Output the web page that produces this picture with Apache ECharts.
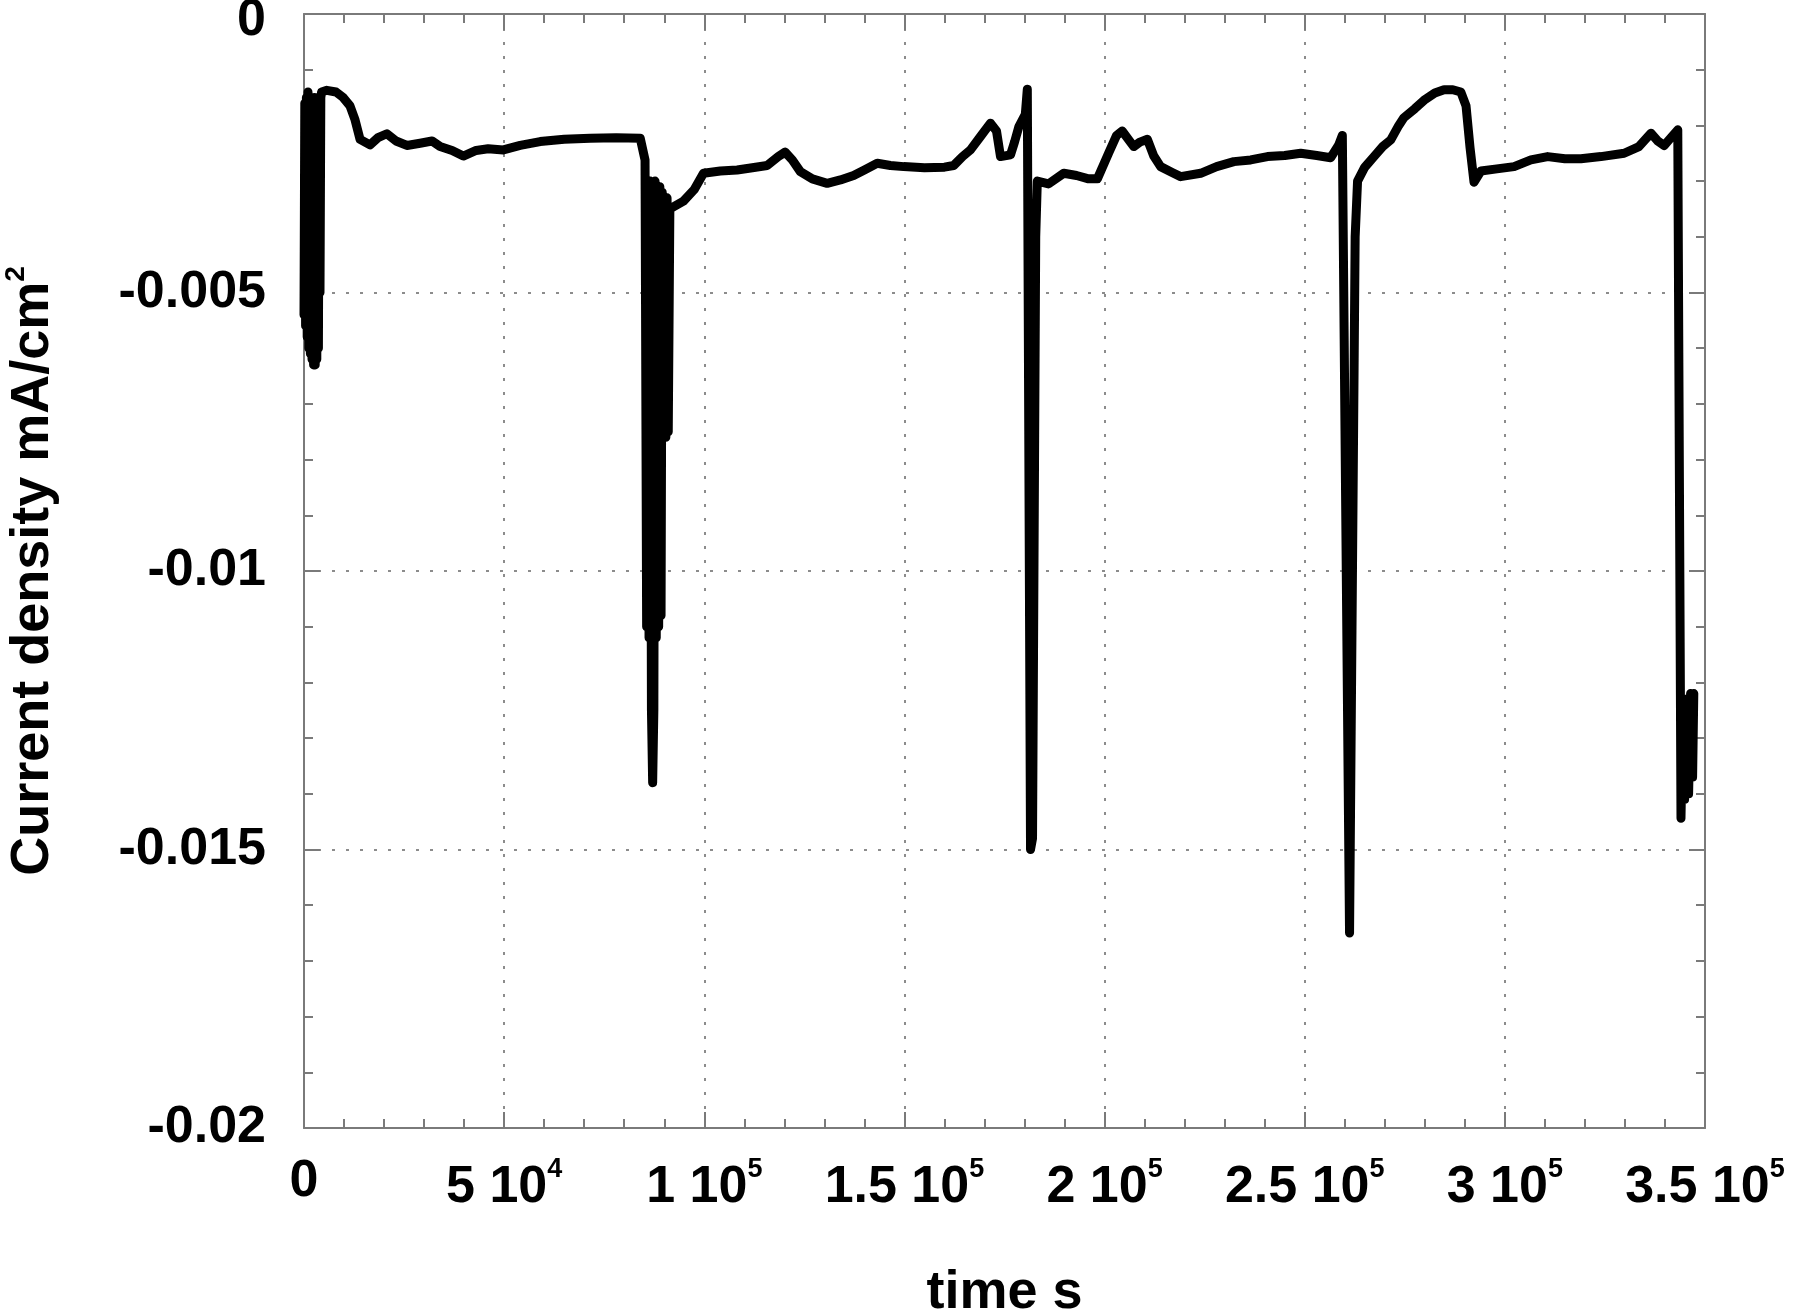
<!DOCTYPE html>
<html>
<head>
<meta charset="utf-8">
<script src="https://cdn.jsdelivr.net/npm/echarts@6/dist/echarts.min.js"></script>
<style>
  html, body { margin: 0; padding: 0; background: #fff; }
  #chart { width: 1800px; height: 1316px; }
</style>
</head>
<body>
<div id="chart"></div>
<script>
// time (s) and current density (mA/cm2)
const time = [
  0, 200, 400, 600, 800, 1000, 1200, 1400, 1600, 1800, 2000, 2200, 2400, 2600, 2800,
  3000, 3200, 3400, 3600, 3800, 4000, 4200, 4400,
  5700, 8000, 9800, 11500, 12750, 14000, 16500, 18500, 20700, 23000, 25700, 29000,
  32000, 34000, 37000, 39800, 43000, 46000, 49800, 54000, 59000, 65000, 71500, 78000,
  84000, 85200,
  85600, 85900, 86200, 86500, 86800, 87100, 87400, 87700, 88000, 88300, 88600, 88900,
  89200, 89500, 89800, 90100, 90400, 90700, 91000, 91400,
  94800, 97500, 99800, 104000, 108200, 112000, 115700, 118500, 120200, 122000, 124000,
  127000, 130700, 134000, 137300, 140000, 143200, 146500, 149800, 155000, 160000,
  162300, 164500, 166500, 169000, 171500, 173000, 174000, 176500, 177500, 178600,
  180200, 180700,
  181500, 182000, 182800,
  183200, 186000, 189800, 193000, 196000, 198200, 201000, 203000, 204400, 207300,
  208800, 210700, 212300, 214000, 217000, 219000, 224000, 228000, 232300, 236500,
  240700, 245000, 249000, 253000, 256500, 258500, 259400,
  261200, 262600,
  263200, 265000, 267300, 269500, 271500, 273500, 274800, 277500, 279800, 282500,
  284800, 287000, 289000, 290300, 291300, 292300, 294000, 298000, 302300, 306500,
  310700, 315000, 319000, 324000, 329800, 333500, 336500, 338200, 339800, 341500,
  343200,
  344000, 344400, 344900, 345400, 345900, 346400, 346900, 347200
];
const current = [
  -0.0054, -0.0016, -0.0056, -0.0015, -0.0058, -0.0014, -0.0060, -0.0015, -0.0061, -0.0015, -0.0062, -0.0016, -0.0063, -0.0015, -0.0063,
  -0.0016, -0.0062, -0.0015, -0.0060, -0.0016, -0.0050, -0.0015, -0.0014,
  -0.00137, -0.00140, -0.00150, -0.00165, -0.00190, -0.00225, -0.00235, -0.00222, -0.00215, -0.00228, -0.00236, -0.00232,
  -0.00228, -0.00238, -0.00245, -0.00255, -0.00245, -0.00242, -0.00244, -0.00236, -0.00229, -0.00225, -0.00223, -0.00222,
  -0.00223, -0.00262,
  -0.0110, -0.0030, -0.0112, -0.0030, -0.0125, -0.0138, -0.0125, -0.0030, -0.0112, -0.0031, -0.0110, -0.0031,
  -0.0108, -0.0032, -0.0076, -0.0033, -0.0076, -0.0033, -0.0075, -0.0035,
  -0.00336, -0.00315, -0.00286, -0.00282, -0.00280, -0.00276, -0.00272, -0.00256, -0.00248, -0.00262, -0.00283,
  -0.00296, -0.00304, -0.00298, -0.00290, -0.00280, -0.00268, -0.00272, -0.00274, -0.00276, -0.00275,
  -0.00272, -0.00256, -0.00244, -0.00220, -0.00196, -0.00210, -0.00256, -0.00253, -0.00230, -0.00202,
  -0.00180, -0.00135,
  -0.0150, -0.0148, -0.0040,
  -0.00300, -0.00305, -0.00286, -0.00290, -0.00296, -0.00296, -0.00250, -0.00218, -0.00210, -0.00238,
  -0.00230, -0.00225, -0.00255, -0.00274, -0.00285, -0.00292, -0.00286, -0.00274, -0.00265, -0.00262,
  -0.00256, -0.00254, -0.00250, -0.00254, -0.00258, -0.00235, -0.00218,
  -0.0165, -0.0040,
  -0.00300, -0.00275, -0.00256, -0.00238, -0.00226, -0.00200, -0.00186, -0.00170, -0.00155, -0.00142,
  -0.00136, -0.00136, -0.00140, -0.00165, -0.00240, -0.00302, -0.00282, -0.00278, -0.00274, -0.00262,
  -0.00256, -0.00260, -0.00260, -0.00256, -0.00250, -0.00238, -0.00214, -0.00228, -0.00236, -0.00222,
  -0.00208,
  -0.01444, -0.0128, -0.0141, -0.0123, -0.0140, -0.0122, -0.0137, -0.0122
];

const xMin = 0, xMax = 350000, xStep = 50000;
const yMin = -0.02, yMax = 0, yStep = 0.005;

const font = "'Liberation Sans', Arial, Helvetica, sans-serif";
const frame = "#7a7a7a";

function xLabel(v) {
  if (v === 0) return "{n|0}";
  const e = Math.floor(Math.log10(v) + 1e-9);
  const m = +(v / Math.pow(10, e)).toFixed(2);
  return "{n|" + m + " 10}{s|" + e + "}";
}

// the top "0" sits a little lower so it is not cut by the page edge
function yLabel(v) {
  const t = String(+v.toFixed(3));
  return v === 0 ? "{z|" + t + "}" : "{n|" + t + "}";
}

const rich = {
  n: { fontSize: 52, fontWeight: "bold", fontFamily: font, color: "#000" },
  s: { fontSize: 27, fontWeight: "bold", fontFamily: font, color: "#000", padding: [0, 0, 36, 0] }
};

const yRich = {
  n: { fontSize: 52, fontWeight: "bold", fontFamily: font, color: "#000" },
  z: { fontSize: 52, fontWeight: "bold", fontFamily: font, color: "#000", padding: [14, 0, 0, 0] }
};

function axisBase(min, max, step) {
  return {
    type: "value", min: min, max: max, interval: step,
    axisLine: { show: true, onZero: false, lineStyle: { color: frame, width: 2 } },
    axisTick: { show: true, inside: true, length: 16, lineStyle: { color: frame, width: 2 } },
    minorTick: { show: true, splitNumber: 5, length: 9, lineStyle: { color: frame, width: 2 } },
    splitLine: { show: false },
    axisLabel: { show: false }
  };
}

const chart = echarts.init(document.getElementById("chart"));
chart.setOption({
  animation: false,
  backgroundColor: "#fff",
  grid: { left: 304, right: 95, top: 14, bottom: 188, containLabel: false, outerBoundsMode: "none" },
  xAxis: [
    Object.assign(axisBase(xMin, xMax, xStep), {
      position: "bottom",
      splitLine: { show: true, lineStyle: { color: "#8c8c8c", width: 2, type: [3, 11] } },
      axisLabel: { show: true, margin: 28, formatter: xLabel, rich: rich },
      name: "time s",
      nameLocation: "middle",
      nameGap: 138,
      nameTextStyle: { fontSize: 54, fontWeight: "bold", fontFamily: font, color: "#000" }
    }),
    Object.assign(axisBase(xMin, xMax, xStep), { position: "top" })
  ],
  yAxis: [
    Object.assign(axisBase(yMin, yMax, yStep), {
      position: "left",
      splitLine: { show: true, lineStyle: { color: "#8c8c8c", width: 2, type: [3, 11] } },
      axisLabel: { show: true, margin: 38, formatter: yLabel, rich: yRich },
      name: "Current density mA/cm{s|2}",
      nameLocation: "middle",
      nameGap: 240,
      nameTextStyle: {
        fontSize: 54, fontWeight: "bold", fontFamily: font, color: "#000",
        rich: { s: { fontSize: 28, fontWeight: "bold", fontFamily: font, color: "#000", padding: [0, 0, 34, 0] } }
      }
    }),
    Object.assign(axisBase(yMin, yMax, yStep), { position: "right" })
  ],
  series: [{
    type: "line",
    xAxisIndex: 0,
    yAxisIndex: 0,
    showSymbol: false,
    symbol: "none",
    lineStyle: { color: "#000", width: 9, join: "round", cap: "round" },
    data: time.map((t, i) => [t, current[i]])
  }]
});
</script>
</body>
</html>
